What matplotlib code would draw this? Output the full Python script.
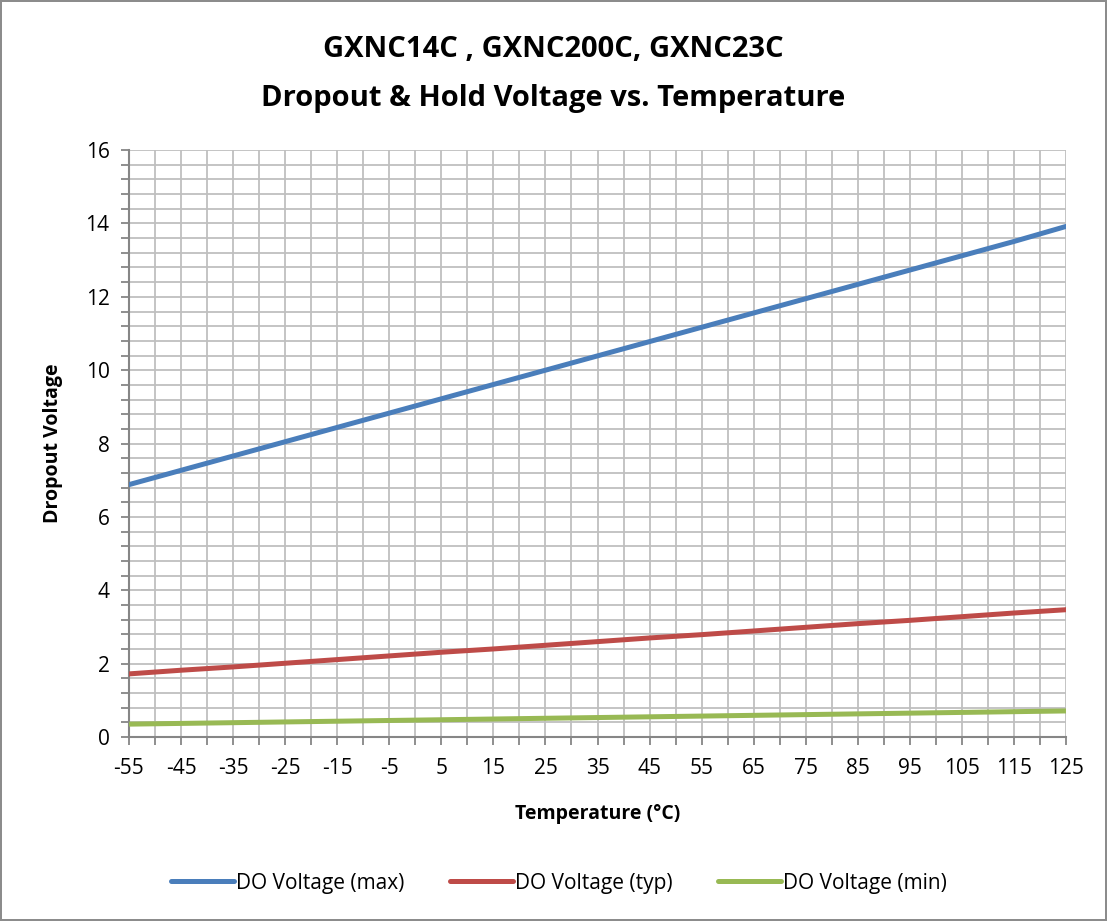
import matplotlib.pyplot as plt
import numpy as np

# Temperature (C) vs dropout voltage
temps = [-55, -45, -35, -25, -15, -5, 5, 15, 25, 35, 45, 55, 65, 75, 85, 95, 105, 115, 125]
do_max = [6.88, 7.27, 7.66, 8.05, 8.44, 8.83, 9.22, 9.61, 10.0, 10.39, 10.78, 11.17,
          11.56, 11.95, 12.34, 12.73, 13.12, 13.51, 13.92]
do_typ = [1.72, 1.82, 1.91, 2.01, 2.11, 2.21, 2.31, 2.40, 2.50, 2.60, 2.70, 2.79,
          2.89, 2.99, 3.09, 3.18, 3.28, 3.38, 3.47]
do_min = [0.35, 0.37, 0.39, 0.41, 0.43, 0.45, 0.47, 0.49, 0.51, 0.53, 0.55, 0.57,
          0.59, 0.61, 0.63, 0.65, 0.67, 0.69, 0.71]
series_names = ['DO Voltage (max)', 'DO Voltage (typ)', 'DO Voltage (min)']
colors = ['#4A7EBB', '#BE4B48', '#98B954']

plt.rcParams['font.family'] = ['Open Sans', 'DejaVu Sans']

fig = plt.figure(figsize=(11.07, 9.21), dpi=100)
fig.patch.set_edgecolor('#8c8c8c')
fig.patch.set_linewidth(1.5)
ax = fig.add_axes([0.1165, 0.1998, 0.8465, 0.6372])

for vals, name, c in zip([do_max, do_typ, do_min], series_names, colors):
    ax.plot(temps, vals, color=c, lw=3.6, label=name, solid_capstyle='round', zorder=3)

ax.set_xlim(-55, 125)
ax.set_ylim(0, 16)

# x ticks every 5, labels every 10
xt = np.arange(-55, 126, 5)
ax.set_xticks(xt)
ax.set_xticklabels([str(v) if (v + 55) % 10 == 0 else '' for v in xt])
ax.set_yticks(np.arange(0, 17, 2))
ax.set_yticks(np.arange(0, 16.01, 0.4), minor=True)

ax.grid(True, which='both', color='#BFBFBF', lw=1.3, zorder=0)
ax.set_axisbelow(True)
ax.tick_params(axis='both', which='both', direction='out', color='#868686',
               labelsize=15, length=6, width=1.3)
ax.tick_params(axis='x', pad=9)
ax.tick_params(axis='y', pad=8)
for s in ['top', 'right']:
    ax.spines[s].set_visible(False)
for s in ['left', 'bottom']:
    ax.spines[s].set_color('#868686')
    ax.spines[s].set_linewidth(1.5)

ax.set_xlabel('Temperature (°C)', fontsize=14, fontweight='bold', labelpad=18)
ax.set_ylabel('Dropout Voltage', fontsize=14, fontweight='bold', labelpad=16)

fig.text(0.5, 0.946, 'GXNC14C , GXNC200C, GXNC23C', ha='center', va='center',
         fontsize=21, fontweight='bold')
fig.text(0.5, 0.893, 'Dropout & Hold Voltage vs. Temperature', ha='center', va='center',
         fontsize=21, fontweight='bold')

fig.legend(loc='center', bbox_to_anchor=(0.505, 0.041), ncol=3, frameon=False,
           fontsize=15, handlelength=3, columnspacing=2.2, handletextpad=0.1)

fig.savefig('out.png', dpi=100)
